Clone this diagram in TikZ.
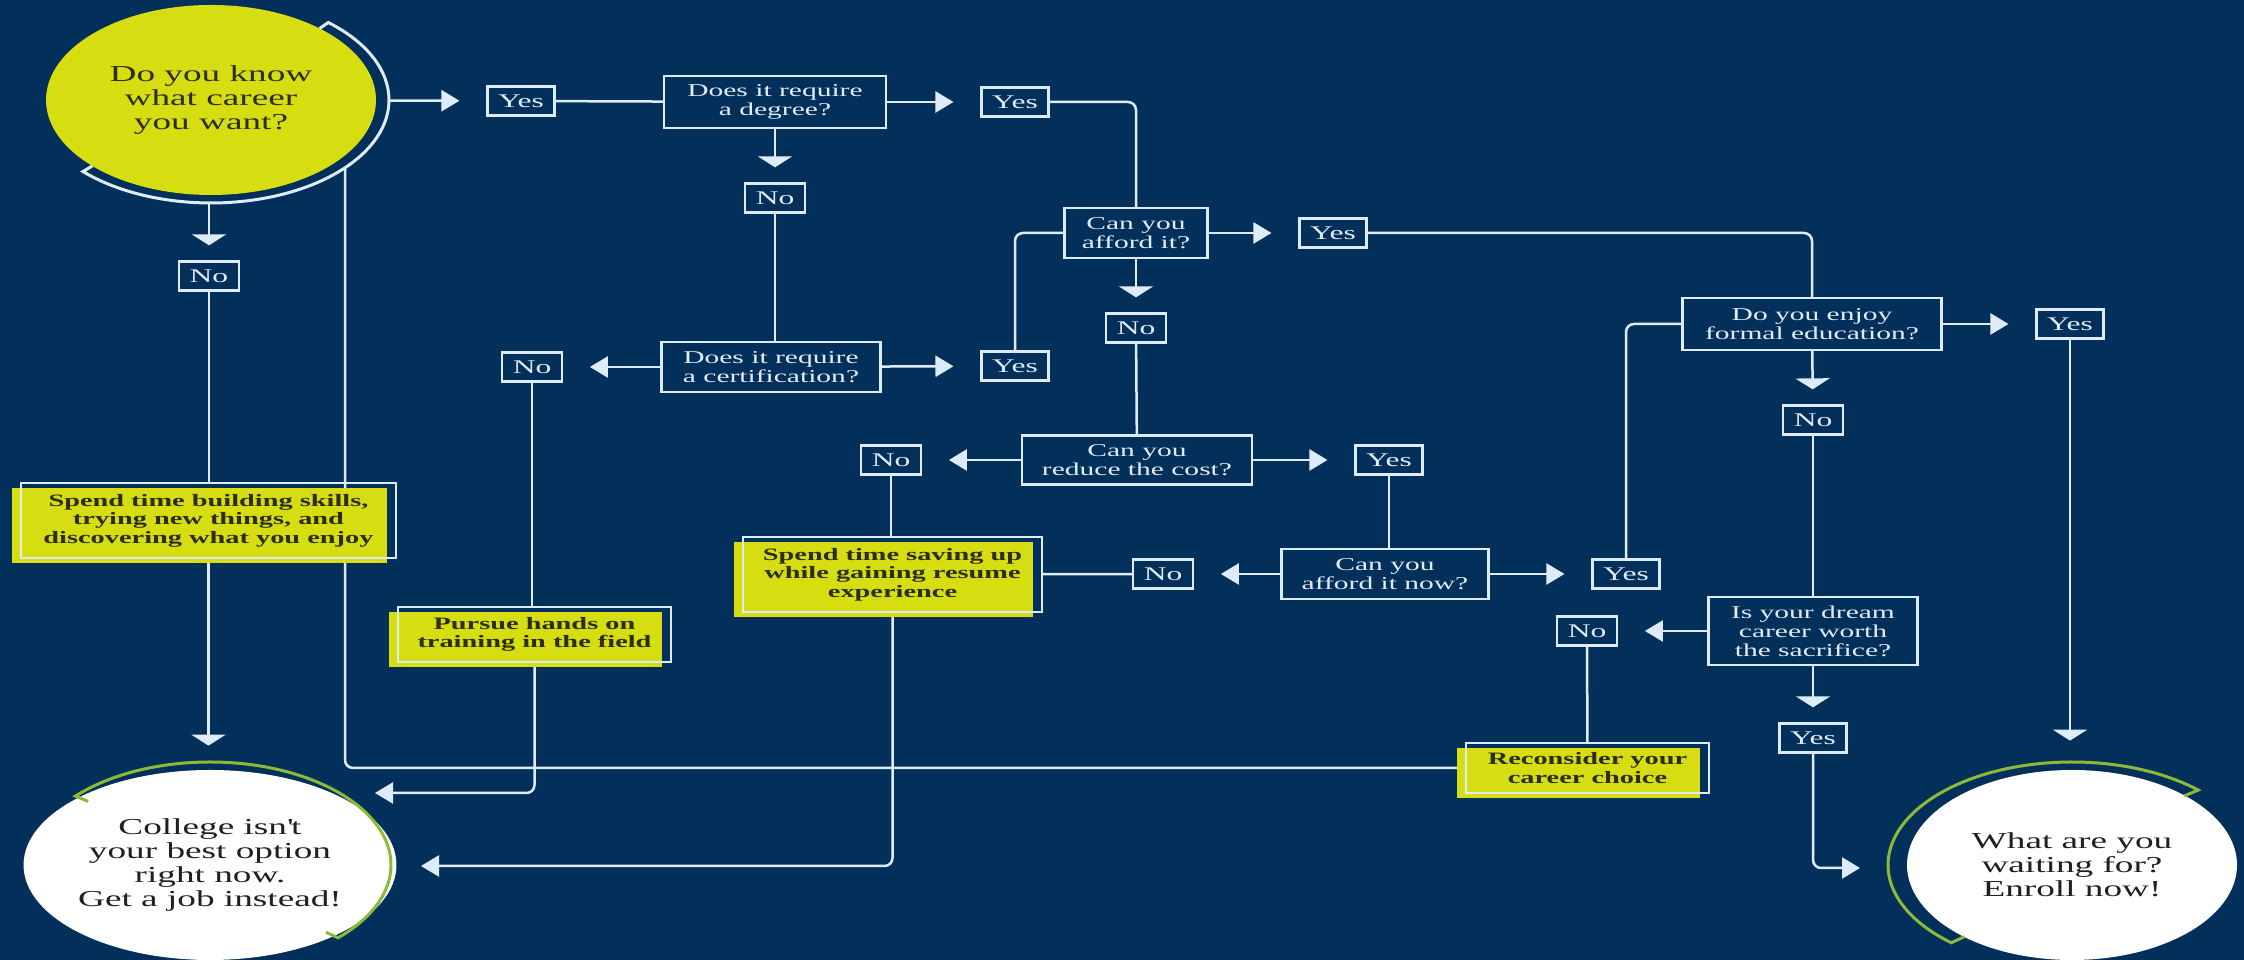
\documentclass[tikz,border=0pt]{standalone}
\usepackage{fontspec}
\setmainfont[FakeStretch=1.63]{Liberation Serif}
\usetikzlibrary{calc,arrows.meta,shapes.geometric,shadows}

\definecolor{navy}{RGB}{2,48,90}
\definecolor{wirec}{RGB}{222,236,250}
\definecolor{boxtext}{RGB}{226,236,246}
\definecolor{actyellow}{RGB}{214,222,18}
\definecolor{acttext}{RGB}{45,45,22}
\definecolor{ringgreen}{RGB}{140,186,56}
\definecolor{goaltext}{RGB}{32,32,32}

\pgfdeclarelayer{back}
\pgfsetlayers{back,main}

\tikzset{
  wire/.style={draw=wirec, line width=0.5mm, rounded corners=1.6mm},
  htip/.style={-{Triangle[length=3.6mm,width=4.2mm]}},
  vtip/.style={-{Triangle[length=2.2mm,width=6.8mm]}},
  hgo/.style={wire, htip, shorten >=5.4mm},
  vgo/.style={wire, vtip, shorten >=3mm},
  ring/.style={line width=0.6mm},
  tag/.style={draw=wirec, line width=0.45mm, fill=navy, text=boxtext,
    inner xsep=2.1mm, inner ysep=0pt, minimum height=5.8mm,
    font=\fontsize{11}{11}\selectfont},
  ask/.style={draw=wirec, line width=0.45mm, fill=navy, text=boxtext,
    align=center, inner sep=0pt, minimum height=10mm,
    font=\fontsize{10.3}{10.8}\selectfont},
  act/.style={draw=wirec, line width=0.4mm, text=acttext, align=center,
    inner sep=0pt, font=\bfseries\fontsize{9.9}{10.5}\selectfont,
    general shadow={fill=actyellow, shadow xshift=-1.8mm, shadow yshift=-1mm}},
  goal/.style={ellipse, inner sep=0pt, minimum width=66mm, minimum height=38mm,
    align=center, text=goaltext, font=\fontsize{13}{13.7}\selectfont}
}

\begin{document}
\begin{tikzpicture}[x=0.2mm,y=0.2mm]

   \begin{pgfonlayer}{back}
   \fill[navy] (0,0) rectangle (2244,960);
   \end{pgfonlayer}
   \useasboundingbox (0,0) rectangle (2244,960);

   % ends of the rings round the three circles
   \coordinate (s1) at ($(211,860) + (48.8:165 and 95)$);
   \coordinate (s2) at ($(211,860) + (48.8:178 and 103)$);
   \coordinate (s3) at ($(211,860) + (-136:165 and 95)$);

   \coordinate (c1) at ($(210,95) + (138:164 and 95)$);
   \coordinate (c2) at ($(210,95) + (138:181 and 103)$);
   \coordinate (c3) at ($(210,95) + (-45:164 and 95)$);

   \coordinate (e1) at ($(2072,95) + (46.7:164 and 95)$);
   \coordinate (e2) at ($(2072,95) + (46.7:184 and 103)$);
   \coordinate (e3) at ($(2072,95) + (229:164 and 95)$);

   % free ends of connectors
   \coordinate (ret) at (345,792);
   \coordinate (cin1) at (375,167);
   \coordinate (cin2) at (421,94);
   \coordinate (ein) at (1860,92);

   \node[goal, fill=actyellow, text=acttext] (start) at (211,860) {Do you know\\what career\\you want?};
   \node[goal, fill=white] (college) at (210,95) {College isn\textquotesingle t\\your best option\\right now.\\Get a job instead!};
   \node[goal, fill=white] (enroll) at (2072,95) {What are you\\waiting for?\\Enroll now!};

   \node[tag] (yes1) at (521,859) {Yes};
   \node[ask, minimum width=44.4mm, minimum height=10.4mm] (degree) at (775,858) {Does it require\\a degree?};
   \node[tag] (yes2) at (1015,858) {Yes};
   \node[tag] (no2) at (775,762) {No};
   \node[ask, minimum width=43.8mm] (cert) at (771,593) {Does it require\\a certification?};
   \node[tag] (no3) at (532,593) {No};
   \node[tag] (yes3) at (1015,594) {Yes};
   \node[ask, minimum width=28.6mm] (afford) at (1136,727) {Can you\\afford it?};
   \node[tag] (yes4) at (1333,727) {Yes};
   \node[tag] (no4) at (1136,632) {No};
   \node[ask, minimum width=46mm, minimum height=9.8mm] (reduce) at (1137,500) {Can you\\reduce the cost?};
   \node[tag] (no5) at (891,500) {No};
   \node[tag] (yes5) at (1389,500) {Yes};
   \node[ask, minimum width=41.4mm] (affordnow) at (1385,386) {Can you\\afford it now?};
   \node[tag] (no6) at (1163,386) {No};
   \node[tag] (yes6) at (1626,386) {Yes};
   \node[ask, minimum width=51.8mm, minimum height=10.4mm] (enjoy) at (1812,636) {Do you enjoy\\formal education?};
   \node[tag] (yes7) at (2070,636) {Yes};
   \node[tag] (no8) at (1813,540) {No};
   \node[ask, minimum width=41.8mm, minimum height=13.6mm] (worth) at (1813,329) {Is your dream\\career worth\\the sacrifice?};
   \node[tag] (no7) at (1587,329) {No};
   \node[tag] (yes8) at (1813,222) {Yes};
   \node[tag] (no1) at (209,684) {No};

   \node[act, minimum width=75mm, minimum height=15mm] (skills) at (208.5,439.5) {Spend time building skills,\\trying new things, and\\discovering what you enjoy};
   \node[act, minimum width=54.6mm, minimum height=11mm] (pursue) at (534.5,325.5) {Pursue hands on\\training in the field};
   \node[act, minimum width=59.8mm, minimum height=15mm] (saving) at (892.5,385.5) {Spend time saving up\\while gaining resume\\experience};
   \node[act, minimum width=48.6mm, minimum height=10mm] (reconsider) at (1587.5,192) {Reconsider your\\career choice};

   \draw[ring, draw=wirec] (s1) -- (s2) arc[start angle=48.8, end angle=-136, x radius=178, y radius=103] -- (s3);
   \draw[ring, draw=ringgreen] (c1) -- (c2) arc[start angle=138, end angle=-45, x radius=181, y radius=103] -- (c3);
   \draw[ring, draw=ringgreen] (e1) -- (e2) arc[start angle=46.7, end angle=229, x radius=184, y radius=103] -- (e3);

   \begin{pgfonlayer}{back}
   \draw[hgo, shorten <=2.6mm] (start) -- (yes1);
   \draw[wire] (yes1) -- (degree);
   \draw[hgo] (degree) -- (yes2);
   \draw[wire] (yes2) -| (afford);
   \draw[vgo] (degree) -- (no2);
   \draw[wire] (no2) -- (no2 |- cert.north);
   \draw[hgo] (cert) -- (no3);
   \draw[hgo] (cert) -- (yes3);
   \draw[wire] (no3) -- (no3 |- pursue.north);
   \draw[wire] (yes3) |- (afford);
   \draw[hgo] (afford) -- (yes4);
   \draw[wire] (yes4) -| (enjoy);
   \draw[vgo] (afford) -- (no4);
   \draw[wire] (no4) -- (reduce);
   \draw[hgo] (reduce) -- (no5);
   \draw[hgo] (reduce) -- (yes5);
   \draw[wire] (no5) -- (no5 |- saving.north);
   \draw[wire] (yes5) -- (yes5 |- affordnow.north);
   \draw[hgo] (affordnow) -- (no6);
   \draw[hgo] (affordnow) -- (yes6);
   \draw[wire] (no6) -- (saving);
   \draw[wire] (yes6) |- (enjoy);
   \draw[hgo] (enjoy) -- (yes7);
   \draw[vgo] (enjoy) -- (no8);
   \draw[wire] (no8) -- (worth);
   \draw[hgo] (worth) -- (no7);
   \draw[vgo] (worth) -- (yes8);
   \draw[wire] (no7) -- (reconsider);
   \draw[wire] (reconsider) -| (ret);
   \draw[vgo, shorten <=1.6mm] (no1 |- start.south) -- (no1);
   \draw[wire] (no1) -- (no1 |- skills.north);
   \draw[vgo, shorten >=4.8mm] (skills) -- (skills |- college.north);
   \draw[wire, htip] (pursue) |- (cin1);
   \draw[wire, htip] (saving) |- (cin2);
   \draw[vgo, shorten >=5.8mm] (yes7) -- (yes7 |- enroll.north);
   \draw[wire, htip] (yes8) |- (ein);
   \end{pgfonlayer}

\end{tikzpicture}
\end{document}
